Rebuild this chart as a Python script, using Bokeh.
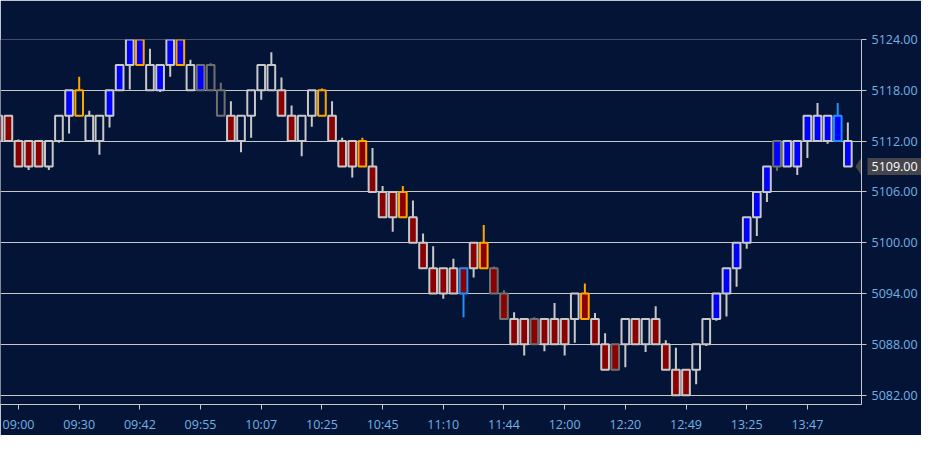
from bokeh.plotting import figure
from bokeh.models import ColumnDataSource, FixedTicker, Range1d, Label
from bokeh.embed import file_html
from bokeh.resources import INLINE

# renko-like bars, 3 points per box; box_lo = bottom of each box
bar_idx = list(range(-1, 84))
box_lo = [
    5112,                                                        # -1
    5112, 5109, 5109, 5109, 5109, 5112, 5115, 5115, 5112, 5112,  # 0-9
    5115, 5118, 5121, 5121, 5118, 5118, 5121, 5121, 5118, 5118,  # 10-19
    5118, 5115, 5112, 5112, 5115, 5118, 5118, 5115, 5112, 5112,  # 20-29
    5115, 5115, 5112, 5109, 5109, 5109, 5106, 5103, 5103, 5103,  # 30-39
    5100, 5097, 5094, 5094, 5094, 5094, 5097, 5097, 5094, 5091,  # 40-49
    5088, 5088, 5088, 5088, 5088, 5088, 5091, 5091, 5088, 5085,  # 50-59
    5085, 5088, 5088, 5088, 5088, 5085, 5082, 5082, 5085, 5088,  # 60-69
    5091, 5094, 5097, 5100, 5103, 5106, 5109, 5109, 5109, 5112,  # 70-79
    5112, 5112, 5112, 5109,                                      # 80-83
]
# r = down (red), b = up (blue), h = hollow
fill_kind = [
    "r",
    "r", "r", "r", "r", "h", "h", "b", "h", "h", "h",
    "b", "b", "b", "b", "h", "b", "b", "b", "h", "b",
    "h", "h", "r", "h", "h", "h", "h", "r", "r", "h",
    "h", "h", "r", "r", "r", "r", "r", "r", "r", "r",
    "r", "r", "r", "r", "r", "r", "r", "r", "r", "r",
    "r", "r", "r", "r", "r", "r", "h", "r", "r", "r",
    "r", "h", "r", "h", "r", "r", "r", "r", "h", "h",
    "b", "b", "b", "b", "b", "b", "b", "b", "b", "b",
    "b", "b", "b", "b",
]
# g = grey, d = dark grey, o = orange, c = light blue
edge_kind = [
    "g",
    "g", "g", "g", "g", "g", "g", "g", "o", "g", "g",
    "g", "g", "g", "o", "g", "g", "g", "o", "g", "d",
    "d", "d", "g", "g", "g", "g", "g", "g", "g", "g",
    "g", "o", "g", "g", "g", "o", "g", "g", "g", "o",
    "g", "g", "g", "g", "g", "c", "g", "o", "d", "d",
    "g", "g", "d", "g", "g", "g", "g", "o", "g", "g",
    "d", "g", "g", "g", "g", "g", "g", "g", "g", "g",
    "g", "g", "g", "g", "g", "g", "d", "g", "g", "g",
    "g", "g", "c", "g",
]
wick_hi = {1: 5112.2, 7: 5119.6, 8: 5115.6, 14: 5122.9, 17: 5124.6, 18: 5121.6,
           20: 5121.2, 21: 5118.9, 22: 5116.7, 26: 5122.5, 27: 5119.5, 28: 5116.2,
           31: 5118.2, 32: 5116.7, 33: 5112.4, 35: 5112.4, 36: 5111.2, 37: 5106.7,
           39: 5106.7, 40: 5105.0, 41: 5101.1, 42: 5099.6, 44: 5098.1, 47: 5102.1,
           48: 5097.2, 49: 5094.4, 50: 5091.8, 52: 5091.2, 54: 5092.9, 57: 5095.2,
           58: 5091.7, 59: 5089.3, 64: 5092.5, 65: 5088.5, 66: 5087.6, 80: 5116.5,
           82: 5116.5, 83: 5114.2}
wick_lo = {2: 5108.6, 4: 5108.6, 5: 5111.8, 6: 5112.9, 9: 5110.4, 10: 5113.6,
           12: 5118.1, 15: 5117.8, 16: 5119.6, 23: 5110.7, 24: 5112.4, 25: 5116.9,
           29: 5110.2, 30: 5113.7, 34: 5107.7, 38: 5101.3, 43: 5093.4, 45: 5091.2,
           46: 5095.9, 51: 5086.7, 53: 5087.2, 55: 5086.7, 56: 5088.2, 61: 5085.3,
           63: 5087.1, 68: 5083.3, 69: 5087.8, 70: 5090.8, 71: 5091.3, 72: 5094.8,
           73: 5099.3, 74: 5100.8, 75: 5104.8, 76: 5108.5, 78: 5108.0, 79: 5110.0,
           81: 5111.7}
box_size = 3
last_price = 5109.0

x_tick_pos = [1, 7, 13, 19, 25, 31, 37, 43, 49, 55, 61, 67, 73, 79]
x_tick_labels = ["09:00", "09:30", "09:42", "09:55", "10:07", "10:25", "10:45",
                 "11:10", "11:44", "12:00", "12:20", "12:49", "13:25", "13:47"]
y_ticks = [5082, 5088, 5094, 5100, 5106, 5112, 5118, 5124]

BG = "#041436"
GRID = "#c8c8c8"
LABEL = "#72b2e4"
TAG = "#45454b"
fill_map = {"r": "#8b0000", "b": "#0000ff", "h": BG}
edge_map = {"g": "#c8c8c8", "d": "#707070", "o": "#ffa500", "c": "#1e90ff"}
half_w = 0.38

bars = ColumnDataSource(dict(
    left=[i - half_w for i in bar_idx],
    right=[i + half_w for i in bar_idx],
    bottom=box_lo,
    top=[b + box_size for b in box_lo],
    fill=[fill_map[k] for k in fill_kind],
    edge=[edge_map[k] for k in edge_kind],
))

wx, wy0, wy1, wc = [], [], [], []
for i, b, e in zip(bar_idx, box_lo, edge_kind):
    if i in wick_hi:
        wx.append(i); wy0.append(b + box_size); wy1.append(wick_hi[i]); wc.append(edge_map[e])
    if i in wick_lo:
        wx.append(i); wy0.append(b); wy1.append(wick_lo[i]); wc.append(edge_map[e])
wicks = ColumnDataSource(dict(x=wx, y0=wy0, y1=wy1, color=wc))

# frame top sits on the top grid line (the svg frame edge then hides in it)
x_end = 84.35
p = figure(frame_width=861, frame_height=365, min_border_left=0, min_border_top=39,
           min_border_right=60, min_border_bottom=31,
           x_range=Range1d(-0.78, x_end), y_range=Range1d(5080.9, y_ticks[-1]),
           y_axis_location="right", output_backend="svg", toolbar_location=None)
p.background_fill_color = BG
p.border_fill_color = BG
p.outline_line_color = None

p.xgrid.visible = False
p.ygrid.ticker = FixedTicker(ticks=y_ticks)
p.ygrid.grid_line_color = GRID
p.ygrid.grid_line_width = 1

p.segment(x0="x", y0="y0", x1="x", y1="y1", line_color="color", line_width=2, source=wicks)
p.quad(left="left", right="right", bottom="bottom", top="top", source=bars,
       fill_color="fill", line_color="edge", line_width=2)

p.xaxis.ticker = FixedTicker(ticks=x_tick_pos)
p.xaxis.major_label_overrides = dict(zip(x_tick_pos, x_tick_labels))
p.yaxis.ticker = FixedTicker(ticks=y_ticks)
p.yaxis.major_label_overrides = {t: "%.2f" % t for t in y_ticks}
for ax in (p.xaxis, p.yaxis):
    ax.axis_line_color = GRID
    ax.major_tick_line_color = GRID
    ax.major_tick_out = 5
    ax.major_tick_in = 0
    ax.minor_tick_line_color = None
    ax.major_label_text_color = LABEL
    ax.major_label_text_font = "Open Sans"
    ax.major_label_text_font_size = "12.5px"
p.xaxis.major_label_standoff = 6
p.yaxis.major_label_standoff = 5

# current price marker on the axis (tip inside the frame, tag kept in a side
# panel so it is not clipped to the frame)
p.patch(x=[x_end - 0.6, x_end + 0.1, x_end + 0.1],
        y=[last_price, last_price + 1.25, last_price - 1.25],
        fill_color=TAG, line_color=None)
p.add_layout(Label(x=x_end, y=last_price, x_offset=6, text="%.2f" % last_price,
                   text_align="left", text_baseline="middle", text_color="white",
                   text_font="Open Sans", text_font_size="12.5px",
                   background_fill_color=TAG, border_line_color=None,
                   padding=4), "above")

open("out.html", "w").write(file_html(p, INLINE))
